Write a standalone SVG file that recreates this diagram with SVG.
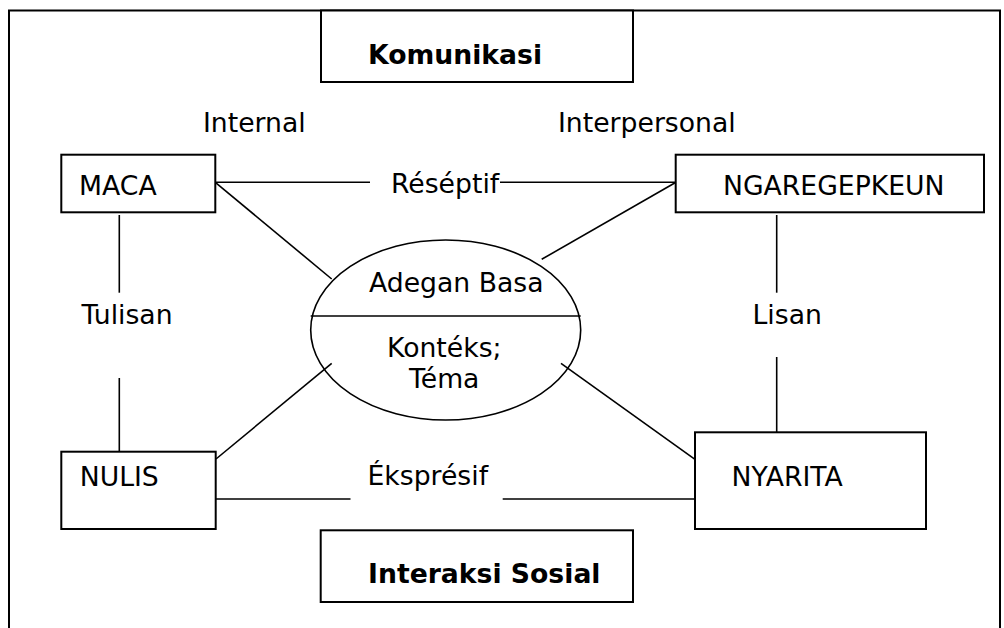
<svg xmlns="http://www.w3.org/2000/svg" width="1004" height="628" viewBox="0 0 1004 628">
<style>
.box{fill:#fff;stroke:#000;stroke-width:2}
.ln{stroke:#000;stroke-width:1.6;fill:none}
.t{font-family:"DejaVu Sans","Verdana",sans-serif;font-size:26.67px;fill:#000}
.b{font-family:"DejaVu Sans","Verdana",sans-serif;font-size:26.67px;font-weight:bold;fill:#000}
</style>
<rect width="1004" height="628" fill="#fff"/>
<path d="M9,628 V10.5 H1000 V628" fill="none" stroke="#000" stroke-width="2"/>
<g id="connectors">
<line class="ln" x1="215" y1="182.3" x2="370" y2="182.3"/>
<line class="ln" x1="500" y1="182.3" x2="676" y2="182.3"/>
<line class="ln" x1="215.3" y1="182.3" x2="331.7" y2="279"/>
<line class="ln" x1="676" y1="182.3" x2="541.7" y2="259.3"/>
<line class="ln" x1="216" y1="459" x2="331.7" y2="363.3"/>
<line class="ln" x1="561" y1="363.3" x2="695" y2="459.3"/>
<line class="ln" x1="215" y1="499" x2="350.5" y2="499"/>
<line class="ln" x1="502.7" y1="499" x2="695" y2="499"/>
<line class="ln" x1="119.3" y1="215" x2="119.3" y2="292.7"/>
<line class="ln" x1="119.3" y1="378" x2="119.3" y2="457"/>
<line class="ln" x1="776.7" y1="215" x2="776.7" y2="292.7"/>
<line class="ln" x1="776.7" y1="357" x2="776.7" y2="432"/>
</g>
<g id="komunikasi">
<rect class="box" x="321" y="10.5" width="312" height="71.5"/>
<text class="b" x="368" y="64.3">Komunikasi</text>
</g>
<g id="label-internal"><text class="t" x="203" y="132">Internal</text></g>
<g id="label-interpersonal"><text class="t" x="558" y="132">Interpersonal</text></g>
<g id="maca">
<rect class="box" x="61.3" y="154.7" width="154" height="57.6"/>
<text class="t" x="79" y="195">MACA</text>
</g>
<g id="label-reseptif"><text class="t" x="391" y="193">Réséptif</text></g>
<g id="ngaregepkeun">
<rect class="box" x="675.7" y="154.7" width="308.3" height="57.6"/>
<text class="t" x="723" y="195">NGAREGEPKEUN</text>
</g>
<g id="adegan">
<ellipse cx="445.7" cy="330" rx="135" ry="90" fill="none" stroke="#000" stroke-width="1.6"/>
<line class="ln" x1="310.7" y1="316" x2="580.7" y2="316"/>
<text class="t" x="369" y="291.7">Adegan Basa</text>
<text class="t" x="387" y="356.7">Kontéks;</text>
<text class="t" x="409" y="387.7">Téma</text>
</g>
<g id="label-tulisan"><text class="t" x="81.5" y="324">Tulisan</text></g>
<g id="label-lisan"><text class="t" x="752.5" y="324">Lisan</text></g>
<g id="nulis">
<rect class="box" x="61.3" y="451.7" width="154.4" height="77.3"/>
<text class="t" x="79.7" y="486">NULIS</text>
</g>
<g id="label-ekspresif"><text class="t" x="367.5" y="485">Éksprésif</text></g>
<g id="nyarita">
<rect class="box" x="695" y="432.3" width="231" height="96.7"/>
<text class="t" x="731.5" y="486">NYARITA</text>
</g>
<g id="interaksi">
<rect class="box" x="320.7" y="530.3" width="312.3" height="71.7"/>
<text class="b" x="368" y="583.3">Interaksi Sosial</text>
</g>
</svg>
